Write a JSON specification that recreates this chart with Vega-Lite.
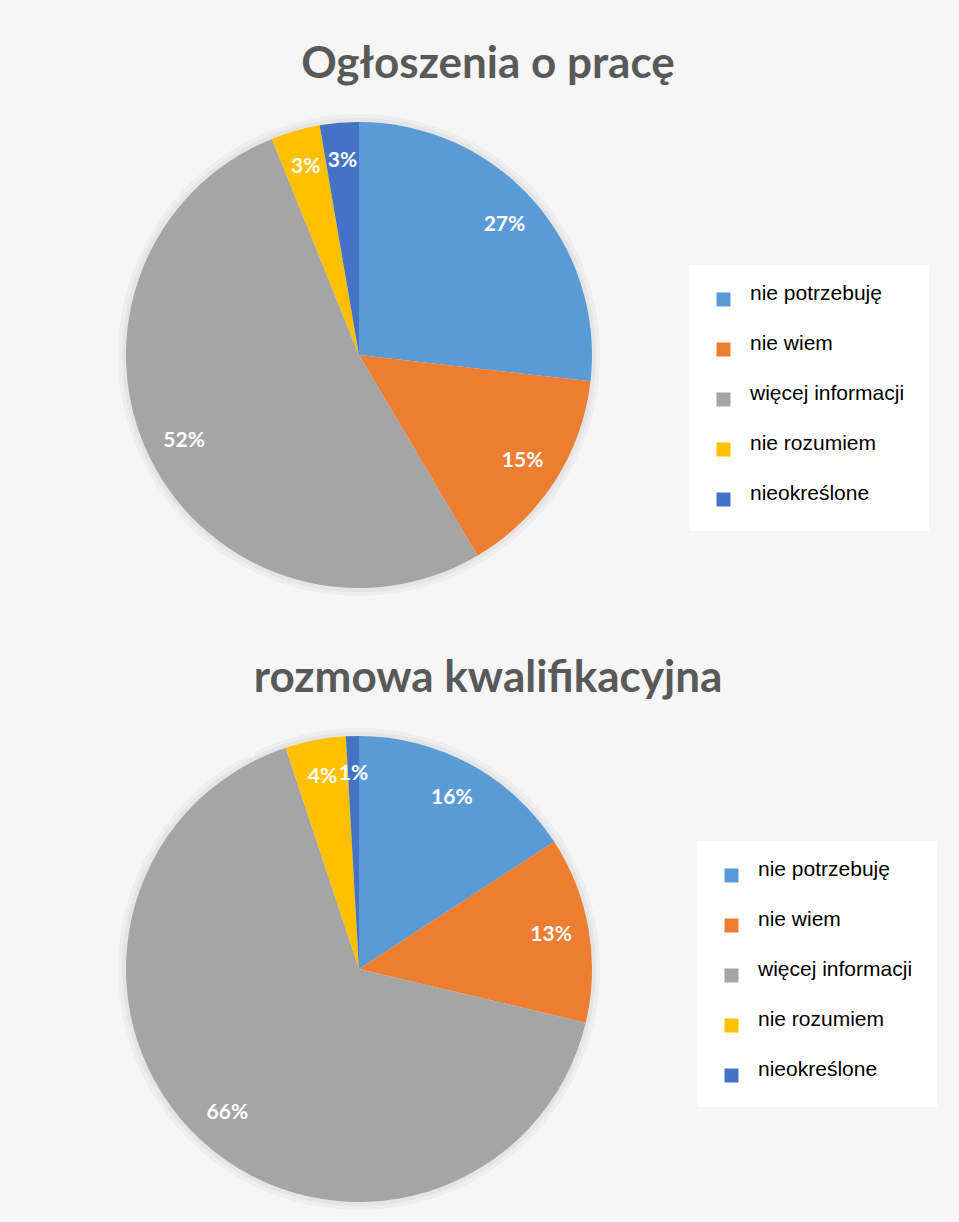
{
  "$schema": "https://vega.github.io/schema/vega-lite/v6.json",
  "background": "#f6f6f6",
  "padding": {"left": 9, "top": 43, "right": 26, "bottom": 17},
  "spacing": 61,
  "config": {
    "view": {"stroke": null},
    "title": {"font": "Lato", "fontWeight": "bold", "fontSize": 44, "color": "#595959", "anchor": "middle", "frame": "group", "dx": 129, "offset": 27}
  },
  "resolve": {"scale": {"color": "independent"}, "legend": {"color": "independent"}},
  "vconcat": [
    {
      "title": "Ogłoszenia o pracę",
      "width": 700,
      "height": 482,
      "data": {"values": [
        {"k": 1, "cat": "nie potrzebuję", "value": 0.268},
        {"k": 2, "cat": "nie wiem", "value": 0.147},
        {"k": 3, "cat": "więcej informacji", "value": 0.524},
        {"k": 4, "cat": "nie rozumiem", "value": 0.034},
        {"k": 5, "cat": "nieokreślone", "value": 0.027}
      ]},
      "layer": [
        {
          "transform": [{"aggregate": [{"op": "sum", "field": "value", "as": "total"}]}],
          "mark": {"type": "arc", "radius": 241, "color": "#eeeeee"},
          "encoding": {"theta": {"field": "total", "type": "quantitative"}}
        },
        {
          "transform": [{"aggregate": [{"op": "sum", "field": "value", "as": "total"}]}],
          "mark": {"type": "arc", "radius": 237, "color": "#e5e5e5"},
          "encoding": {"theta": {"field": "total", "type": "quantitative"}}
        },
        {
          "mark": {"type": "arc", "radius": 233},
          "encoding": {
            "theta": {"field": "value", "type": "quantitative", "stack": true},
            "order": {"field": "k", "type": "quantitative"},
            "color": {
              "field": "cat", "type": "nominal",
              "scale": {"domain": ["nie potrzebuję", "nie wiem", "więcej informacji", "nie rozumiem", "nieokreślone"], "range": ["#5B9BD5", "#ED7D31", "#A5A5A5", "#FFC000", "#4472C4"]},
              "legend": {"title": null, "orient": "none", "legendX": 680, "legendY": 151, "fillColor": "white", "padding": 24, "symbolType": "square", "symbolSize": 196, "symbolStrokeWidth": 0, "labelFont": "Liberation Sans", "labelFontSize": 21, "labelColor": "#000000", "labelLimit": 300, "labelOffset": 16, "labelBaseline": "alphabetic", "rowPadding": 25}
            }
          }
        },
        {
          "mark": {"type": "text", "radius": 195, "font": "Lato", "fontWeight": "bold", "fontSize": 21, "color": "white"},
          "encoding": {
            "theta": {"field": "value", "type": "quantitative", "stack": true},
            "order": {"field": "k", "type": "quantitative"},
            "detail": {"field": "cat", "type": "nominal"},
            "text": {"field": "value", "type": "quantitative", "format": ".0%"}
          }
        }
      ]
    },
    {
      "title": "rozmowa kwalifikacyjna",
      "width": 700,
      "height": 482,
      "data": {"values": [
        {"k": 1, "cat": "nie potrzebuję", "value": 0.158},
        {"k": 2, "cat": "nie wiem", "value": 0.129},
        {"k": 3, "cat": "więcej informacji", "value": 0.662},
        {"k": 4, "cat": "nie rozumiem", "value": 0.042},
        {"k": 5, "cat": "nieokreślone", "value": 0.009}
      ]},
      "layer": [
        {
          "transform": [{"aggregate": [{"op": "sum", "field": "value", "as": "total"}]}],
          "mark": {"type": "arc", "radius": 241, "color": "#eeeeee"},
          "encoding": {"theta": {"field": "total", "type": "quantitative"}}
        },
        {
          "transform": [{"aggregate": [{"op": "sum", "field": "value", "as": "total"}]}],
          "mark": {"type": "arc", "radius": 237, "color": "#e5e5e5"},
          "encoding": {"theta": {"field": "total", "type": "quantitative"}}
        },
        {
          "mark": {"type": "arc", "radius": 233},
          "encoding": {
            "theta": {"field": "value", "type": "quantitative", "stack": true},
            "order": {"field": "k", "type": "quantitative"},
            "color": {
              "field": "cat", "type": "nominal",
              "scale": {"domain": ["nie potrzebuję", "nie wiem", "więcej informacji", "nie rozumiem", "nieokreślone"], "range": ["#5B9BD5", "#ED7D31", "#A5A5A5", "#FFC000", "#4472C4"]},
              "legend": {"title": null, "orient": "none", "legendX": 688, "legendY": 113, "fillColor": "white", "padding": 24, "symbolType": "square", "symbolSize": 196, "symbolStrokeWidth": 0, "labelFont": "Liberation Sans", "labelFontSize": 21, "labelColor": "#000000", "labelLimit": 300, "labelOffset": 16, "labelBaseline": "alphabetic", "rowPadding": 25}
            }
          }
        },
        {
          "mark": {"type": "text", "radius": 195, "font": "Lato", "fontWeight": "bold", "fontSize": 21, "color": "white"},
          "encoding": {
            "theta": {"field": "value", "type": "quantitative", "stack": true},
            "order": {"field": "k", "type": "quantitative"},
            "detail": {"field": "cat", "type": "nominal"},
            "text": {"field": "value", "type": "quantitative", "format": ".0%"}
          }
        }
      ]
    }
  ]
}
